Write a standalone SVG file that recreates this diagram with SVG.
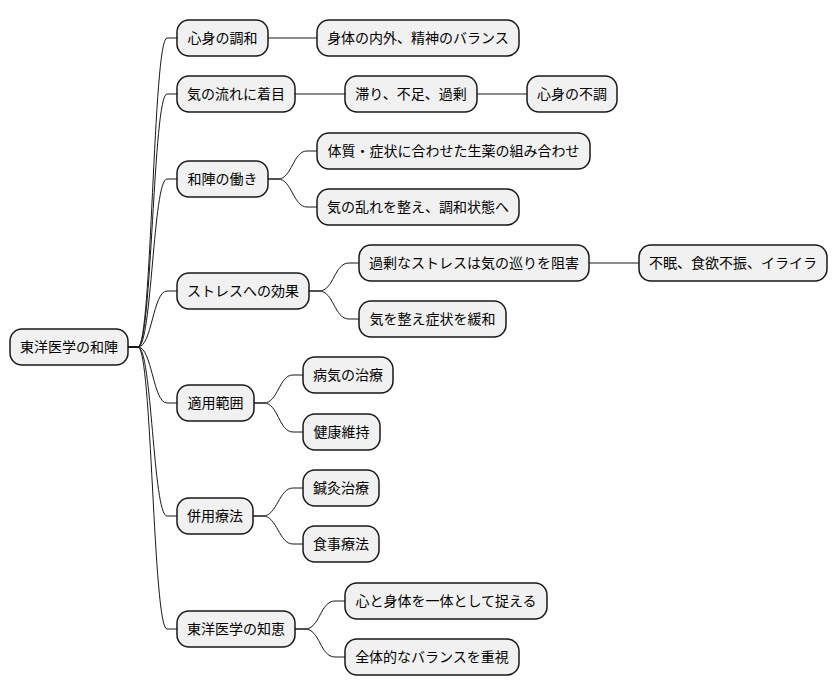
<svg xmlns="http://www.w3.org/2000/svg" width="838" height="696" viewBox="0 0 838 696">
<style>
.n rect{fill:#F1F1F1;stroke:#181818;stroke-width:1.5}
.n text{font-family:"Noto Sans CJK JP","Liberation Sans",sans-serif;font-size:14px;fill:#000;text-anchor:middle}
#edges path{fill:none;stroke:#181818;stroke-width:1}
</style>
<rect width="838" height="696" fill="#FFFFFF"/>
<g id="edges">
<path d="M128,347 H138 C152,347 153,38 167,38 H177"/>
<path d="M128,347 H138 C152,347 153,94 167,94 H177"/>
<path d="M128,347 H138 C152,347 153,179 167,179 H177"/>
<path d="M128,347 H138 C152,347 153,291 167,291 H177"/>
<path d="M128,347 H138 C152,347 153,403 167,403 H177"/>
<path d="M128,347 H138 C152,347 153,516 167,516 H177"/>
<path d="M128,347 H138 C152,347 153,629 167,629 H177"/>
<path d="M268,38 H317"/>
<path d="M295,94 H345"/>
<path d="M477,94 H527"/>
<path d="M268,179 H278 C292,179 293,151 307,151 H317"/>
<path d="M268,179 H278 C292,179 293,207 307,207 H317"/>
<path d="M309,291 H319 C334,291 334,263 349,263 H359"/>
<path d="M309,291 H319 C334,291 334,319 349,319 H359"/>
<path d="M589,263 H639"/>
<path d="M254,403 H264 C278,403 279,375 293,375 H303"/>
<path d="M254,403 H264 C278,403 279,432 293,432 H303"/>
<path d="M253,516 H263 C277,516 279,488 293,488 H303"/>
<path d="M253,516 H263 C277,516 279,544 293,544 H303"/>
<path d="M295,629 H305 C320,629 320,601 335,601 H345"/>
<path d="M295,629 H305 C320,629 320,657 335,657 H345"/>
</g>
<g id="root" class="n"><rect x="10" y="329" width="118" height="36" rx="12"/><text x="69" y="352">東洋医学の和陣</text></g>
<g id="n1" class="n"><rect x="177" y="20" width="91" height="36" rx="12"/><text x="222.5" y="43">心身の調和</text></g>
<g id="n2" class="n"><rect x="177" y="76" width="118" height="36" rx="12"/><text x="236" y="99">気の流れに着目</text></g>
<g id="n3" class="n"><rect x="177" y="161" width="91" height="36" rx="12"/><text x="222.5" y="184">和陣の働き</text></g>
<g id="n4" class="n"><rect x="177" y="273" width="132" height="36" rx="12"/><text x="243" y="296">ストレスへの効果</text></g>
<g id="n5" class="n"><rect x="177" y="385" width="77" height="36" rx="12"/><text x="215.5" y="408">適用範囲</text></g>
<g id="n6" class="n"><rect x="177" y="498" width="76" height="36" rx="12"/><text x="215" y="521">併用療法</text></g>
<g id="n7" class="n"><rect x="177" y="611" width="118" height="36" rx="12"/><text x="236" y="634">東洋医学の知恵</text></g>
<g id="n1a" class="n"><rect x="317" y="20" width="202" height="36" rx="12"/><text x="418" y="43">身体の内外、精神のバランス</text></g>
<g id="n2a" class="n"><rect x="345" y="76" width="132" height="36" rx="12"/><text x="411" y="99">滞り、不足、過剰</text></g>
<g id="n2b" class="n"><rect x="527" y="76" width="90" height="36" rx="12"/><text x="572" y="99">心身の不調</text></g>
<g id="n3a" class="n"><rect x="317" y="133" width="273" height="36" rx="12"/><text x="453.5" y="156">体質・症状に合わせた生薬の組み合わせ</text></g>
<g id="n3b" class="n"><rect x="317" y="189" width="202" height="36" rx="12"/><text x="418" y="212">気の乱れを整え、調和状態へ</text></g>
<g id="n4a" class="n"><rect x="359" y="245" width="230" height="36" rx="12"/><text x="474" y="268">過剰なストレスは気の巡りを阻害</text></g>
<g id="n4b" class="n"><rect x="639" y="245" width="188" height="36" rx="12"/><text x="733" y="268">不眠、食欲不振、イライラ</text></g>
<g id="n4c" class="n"><rect x="359" y="301" width="147" height="36" rx="12"/><text x="432.5" y="324">気を整え症状を緩和</text></g>
<g id="n5a" class="n"><rect x="303" y="357" width="90" height="36" rx="12"/><text x="348" y="380">病気の治療</text></g>
<g id="n5b" class="n"><rect x="303" y="414" width="77" height="36" rx="12"/><text x="341.5" y="437">健康維持</text></g>
<g id="n6a" class="n"><rect x="303" y="470" width="76" height="36" rx="12"/><text x="341" y="493">鍼灸治療</text></g>
<g id="n6b" class="n"><rect x="303" y="526" width="76" height="36" rx="12"/><text x="341" y="549">食事療法</text></g>
<g id="n7a" class="n"><rect x="345" y="583" width="202" height="36" rx="12"/><text x="446" y="606">心と身体を一体として捉える</text></g>
<g id="n7b" class="n"><rect x="345" y="639" width="174" height="36" rx="12"/><text x="432" y="662">全体的なバランスを重視</text></g>
</svg>
